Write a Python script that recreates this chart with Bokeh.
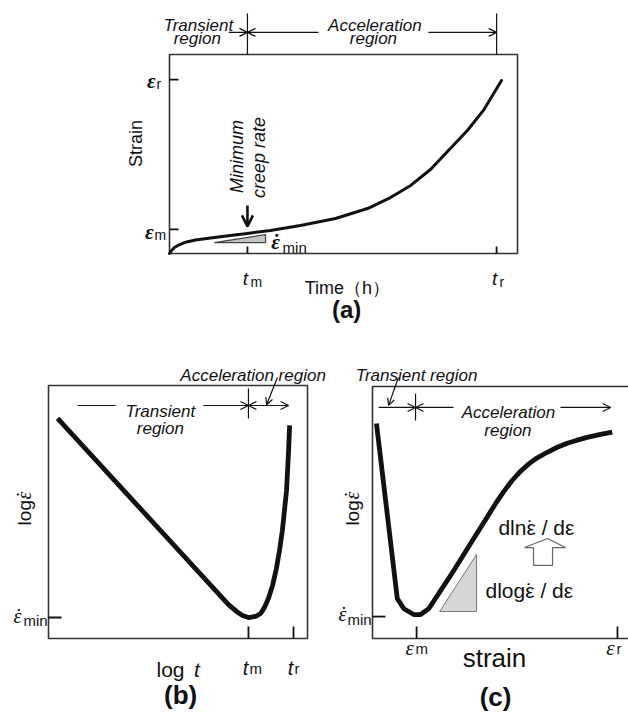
from bokeh.plotting import figure
from bokeh.models import Range1d, Arrow, OpenHead
from bokeh.core.properties import value
from bokeh.embed import file_html
from bokeh.resources import INLINE
import math

W, H = 628, 714
INK = "#111111"
SANS = "Liberation Sans"
SERIF = "Liberation Serif"
EPS = "\u03b5"
DOT = "\u02d9"

# ---------------- data (schematic units, 0..1 across each panel's box) -------------
# (a) creep curve: strain vs time
a_time = [0.000, 0.006, 0.014, 0.029, 0.049, 0.075, 0.118, 0.175, 0.224, 0.290, 0.376,
          0.477, 0.569, 0.635, 0.693, 0.750, 0.807, 0.856, 0.902, 0.954]
a_strain = [0.000, 0.015, 0.030, 0.045, 0.058, 0.068, 0.078, 0.090, 0.101, 0.116, 0.141,
            0.176, 0.226, 0.281, 0.342, 0.422, 0.528, 0.618, 0.719, 0.869]
a_t_ticks = [0.224, 0.940]          # t_m, t_r
a_t_subs = ["m", "r"]
a_eps_ticks = [0.121, 0.874]        # eps_m, eps_r
a_eps_subs = ["m", "r"]
a_tri_x = [0.129, 0.276, 0.276]
a_tri_y = [0.055, 0.095, 0.055]

# (b) log strain rate vs log time
b_logt = [0.035, 0.695, 0.726, 0.749, 0.772, 0.799, 0.819, 0.834, 0.849, 0.865, 0.880,
          0.892, 0.903, 0.911, 0.919, 0.923, 0.927, 0.931]
b_lograte = [0.870, 0.134, 0.107, 0.091, 0.083, 0.087, 0.099, 0.123, 0.158, 0.209, 0.277,
             0.348, 0.427, 0.506, 0.585, 0.664, 0.743, 0.842]
b_t_ticks = [0.772, 0.946]          # t_m, t_r
b_t_subs = ["m", "r"]
b_rate_min = 0.083

# (c) log strain rate vs strain
c_strain = [0.015, 0.094, 0.119, 0.156, 0.182, 0.213, 0.258, 0.308, 0.371, 0.434, 0.466,
            0.497, 0.529, 0.561, 0.592, 0.624, 0.662, 0.700, 0.738, 0.775, 0.813, 0.864,
            0.908]
c_lograte = [0.853, 0.158, 0.118, 0.095, 0.095, 0.118, 0.190, 0.270, 0.376, 0.481, 0.535,
             0.583, 0.627, 0.664, 0.693, 0.717, 0.739, 0.759, 0.775, 0.787, 0.798, 0.810,
             0.819]
c_eps_ticks = [0.167, 0.928]        # eps_m, eps_r
c_eps_subs = ["m", "r"]
c_rate_min = 0.087
c_tri_x = [0.254, 0.394, 0.394]
c_tri_y = [0.107, 0.333, 0.107]
c_harrow_x = [0.663, 0.731, 0.682, 0.682, 0.610, 0.610, 0.576]
c_harrow_y = [0.397, 0.361, 0.361, 0.290, 0.290, 0.361, 0.361]

# ---------------- figure ----------------
p = figure(width=W, height=H, x_range=Range1d(0, W), y_range=Range1d(0, H),
           output_backend="svg", toolbar_location=None,
           x_axis_location=None, y_axis_location=None, min_border=0,
           outline_line_color=None, background_fill_color="white",
           border_fill_color="white")
p.grid.grid_line_color = None

# panel boxes in page pixels: left, right, top, bottom
PANELS = {"a": (169, 517, 54, 253), "b": (48, 307, 385, 638), "c": (372, 636, 386, 638)}
SIZE = {}
for name, (l, r, t, b) in PANELS.items():
    sx, sy = r - l, b - t
    SIZE[name] = (sx, sy)
    p.extra_x_ranges[name] = Range1d(-l / sx, (W - l) / sx)
    p.extra_y_ranges[name] = Range1d((b - H) / sy, b / sy)


def T(pn, x, y, s, size, style="normal", font=SANS, align="center", baseline="middle",
      angle=0.0, dx=0, dy=0):
    p.text(x=[x], y=[y], text=[s], x_range_name=pn, y_range_name=pn,
           text_font=value(font), text_font_style=style, text_font_size=f"{size}px",
           text_align=align, text_baseline=baseline, angle=angle,
           x_offset=dx, y_offset=dy, text_color=INK)


def epsdot(pn, x, y, size, style="italic", font=SERIF, baseline="middle", angle=0.0,
           dx=0, dy=0):
    T(pn, x, y, EPS, size, style, font, "center", baseline, angle, dx, dy)
    T(pn, x, y, DOT, size, style, font, "center", baseline, angle, dx, dy)


def arrow(pn, x0, y0, x1, y1, lw=1.2, size=8, both=False):
    head = lambda: OpenHead(size=size, line_width=lw, line_color=INK)
    p.add_layout(Arrow(start=head() if both else None, end=head(),
                       x_start=x0, y_start=y0, x_end=x1, y_end=y1,
                       x_range_name=pn, y_range_name=pn,
                       line_width=lw, line_color=INK))


def seg(pn, x0, y0, x1, y1, lw=1.2, color=INK):
    p.segment(x0=[x0], y0=[y0], x1=[x1], y1=[y1], x_range_name=pn, y_range_name=pn,
              line_width=lw, line_color=color)


def box(pn):
    p.quad(left=[0], right=[1], bottom=[0], top=[1], x_range_name=pn, y_range_name=pn,
           fill_color=None, line_color="#333333", line_width=1.6)


# ================= panel (a) =================
box("a")
sx, sy = SIZE["a"]
for tv in a_t_ticks:
    seg("a", tv, 0, tv, 7 / sy, lw=1.8)
for ev in a_eps_ticks:
    seg("a", 0, ev, 9 / sx, ev, lw=1.8)
p.patch(a_tri_x, a_tri_y, x_range_name="a", y_range_name="a",
        fill_color="#c4c4c4", line_color="#444444", line_width=1.2)
p.line(a_time, a_strain, x_range_name="a", y_range_name="a",
       line_color=INK, line_width=3, line_cap="round", line_join="round")

# region markers above box
for tv in a_t_ticks:
    seg("a", tv, 1.0, tv, 1.206, lw=1.2)
arrow("a", 0.170, 1.111, a_t_ticks[0], 1.111)
arrow("a", 0.428, 1.111, a_t_ticks[0], 1.111)
arrow("a", 0.744, 1.111, a_t_ticks[1], 1.111)
T("a", 0.083, 1.146, "Transient", 17, "italic", baseline="alphabetic")
T("a", 0.080, 1.080, "region", 17, "italic", baseline="alphabetic")
T("a", 0.590, 1.146, "Acceleration", 17, "italic", baseline="alphabetic")
T("a", 0.586, 1.080, "region", 17, "italic", baseline="alphabetic")

# minimum creep rate
arrow("a", a_t_ticks[0], 0.241, a_t_ticks[0], 0.136, lw=2.6, size=11)
T("a", 0.195, 0.487, "Minimum", 18, "italic", angle=math.pi / 2)
T("a", 0.256, 0.482, "creep rate", 18, "italic", angle=math.pi / 2)
epsdot("a", a_tri_x[1], 0.060, 21, "bold italic", dx=10)
T("a", a_tri_x[1], 0.060, "min", 15, align="left", dx=17, dy=6)

# tick labels
for tv, sub in zip(a_t_ticks, a_t_subs):
    T("a", tv, 0, "t", 19, "italic", align="center", baseline="alphabetic", dx=-2, dy=25)
    T("a", tv, 0, sub, 14, align="left", baseline="alphabetic", dx=3, dy=28)
for ev, sub, dxe, dys in zip(a_eps_ticks, a_eps_subs, [-16, -14], [3, 1]):
    T("a", 0, ev, EPS, 21, "bold italic", SERIF, align="right", dx=dxe, dy=dys)
    T("a", 0, ev, sub, 14, align="left", dx=dxe + 1, dy=dys + 3)

T("a", -0.095, 0.553, "Strain", 18, angle=math.pi / 2)
T("a", 0.511, -0.171, "Time\uff08h\uff09", 18, baseline="alphabetic")
T("a", 0.509, -0.281, "(a)", 24, "bold")

# ================= panel (b) =================
box("b")
sx, sy = SIZE["b"]
for tv in b_t_ticks:
    seg("b", tv, 0, tv, 12 / sy, lw=1.8)
seg("b", 0, b_rate_min, 13 / sx, b_rate_min, lw=1.8)
p.line(b_logt, b_lograte, x_range_name="b", y_range_name="b",
       line_color=INK, line_width=4.8, line_cap="butt", line_join="round")

seg("b", 0.112, 0.921, 0.259, 0.921)
arrow("b", 0.598, 0.921, b_t_ticks[0], 0.921)
seg("b", b_t_ticks[0], 0.870, b_t_ticks[0], 0.988)
arrow("b", b_t_ticks[0], 0.921, 0.927, 0.921, both=True)
T("b", 0.432, 0.897, "Transient", 17, "italic", baseline="alphabetic")
T("b", 0.432, 0.830, "region", 17, "italic", baseline="alphabetic")
T("b", 0.790, 1.040, "Acceleration region", 17, "italic", baseline="alphabetic")
arrow("b", 0.884, 1.032, 0.842, 0.924, size=7)

epsdot("b", 0, b_rate_min, 20, dx=-31, dy=-2)
T("b", 0, b_rate_min, "min", 15, align="left", dx=-25, dy=3)
for tv, sub in zip(b_t_ticks, b_t_subs):
    T("b", tv, 0, "t", 20, "italic", align="center", baseline="alphabetic", dx=-3, dy=29)
    T("b", tv, 0, sub, 15, align="left", baseline="alphabetic", dx=1, dy=30)
T("b", 0.471, -0.123, "log", 21, baseline="alphabetic")
T("b", 0.573, -0.123, "t", 21, "italic", baseline="alphabetic")
T("b", -0.093, 0.447, "log", 19, align="left", angle=math.pi / 2)
epsdot("b", -0.093, 0.565, 20, angle=math.pi / 2)
T("b", 0.51, -0.225, "(b)", 26, "bold")

# ================= panel (c) =================
box("c")
sx, sy = SIZE["c"]
for ev in c_eps_ticks:
    seg("c", ev, 0, ev, 12 / sy, lw=1.8)
seg("c", 0, c_rate_min, 13 / sx, c_rate_min, lw=1.8)
p.patch(c_tri_x, c_tri_y, x_range_name="c", y_range_name="c",
        fill_color="#d6d6d6", line_color="#777777", line_width=1.0)
p.patch(c_harrow_x, c_harrow_y, x_range_name="c", y_range_name="c",
        fill_color="white", line_color="#666666", line_width=1.2)
p.line(c_strain, c_lograte, x_range_name="c", y_range_name="c",
       line_color=INK, line_width=4.8, line_cap="butt", line_join="round")

arrow("c", 0.023, 0.917, c_eps_ticks[0] - 0.004, 0.917)
arrow("c", 0.307, 0.917, c_eps_ticks[0] - 0.004, 0.917)
seg("c", c_eps_ticks[0] - 0.004, 0.865, c_eps_ticks[0] - 0.004, 0.972)
arrow("c", 0.712, 0.917, 0.902, 0.917)
T("c", 0.515, 0.897, "Acceleration", 17, "italic", baseline="alphabetic")
T("c", 0.513, 0.825, "region", 17, "italic", baseline="alphabetic")
T("c", 0.167, 1.044, "Transient region", 17, "italic", baseline="alphabetic")
arrow("c", 0.098, 1.036, 0.061, 0.925, size=7)

T("c", 0.477, 0.440, "dln" + EPS + " / d" + EPS, 21, align="left")
T("c", 0.477, 0.440, DOT, 21, align="center", dx=32)
T("c", 0.428, 0.190, "dlog" + EPS + " / d" + EPS, 21, align="left")
T("c", 0.428, 0.190, DOT, 21, align="center", dx=44)

epsdot("c", 0, c_rate_min, 20, dx=-30, dy=-3)
T("c", 0, c_rate_min, "min", 15, align="left", dx=-25, dy=3)
for ev, sub in zip(c_eps_ticks, c_eps_subs):
    T("c", ev, 0, EPS, 21, "italic", SERIF, align="center", baseline="alphabetic", dx=-7, dy=9)
    T("c", ev, 0, sub, 15, align="left", baseline="alphabetic", dx=-1, dy=10)
T("c", 0.462, -0.079, "strain", 26, baseline="alphabetic")
T("c", -0.076, 0.448, "log", 19, align="left", angle=math.pi / 2)
epsdot("c", -0.076, 0.567, 20, angle=math.pi / 2)
T("c", 0.466, -0.234, "(c)", 26, "bold")

open("out.html", "w").write(file_html(p, INLINE))
